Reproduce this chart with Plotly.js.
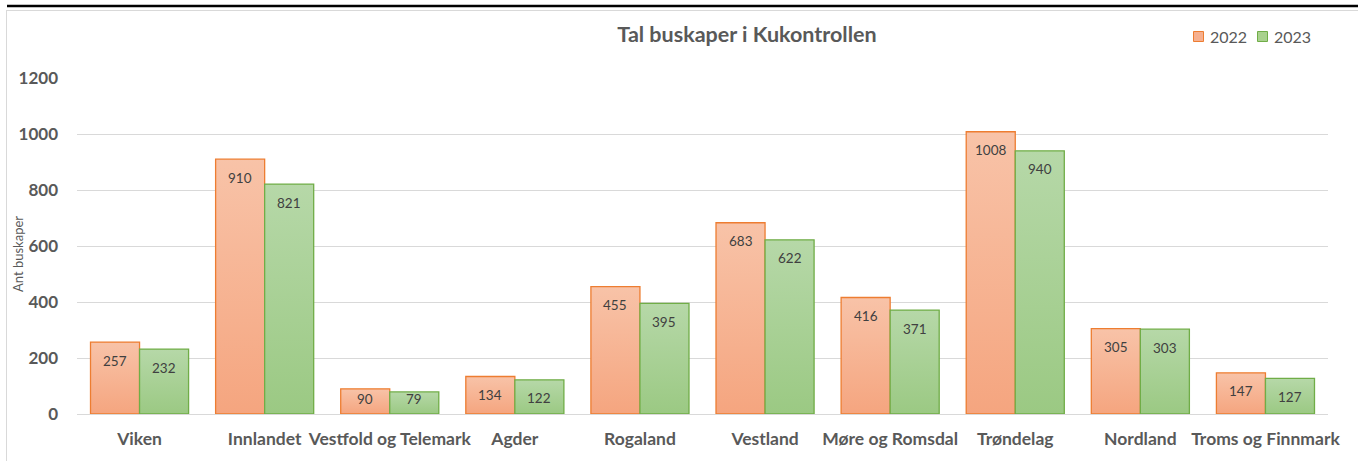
<!DOCTYPE html>
<html>
<head>
<meta charset="utf-8">
<script src="https://cdn.plot.ly/plotly-3.0.1.min.js"></script>
<style>
html,body{margin:0;padding:0;background:#fff;}
#chart{width:1358px;height:461px;}
</style>
</head>
<body>
<div id="chart"></div>
<script>
const categories = ["Viken", "Innlandet", "Vestfold og Telemark", "Agder", "Rogaland", "Vestland", "Møre og Romsdal", "Trøndelag", "Nordland", "Troms og Finnmark"];
const values2022 = [257, 910, 90, 134, 455, 683, 416, 1008, 305, 147];
const values2023 = [232, 821, 79, 122, 395, 622, 371, 940, 303, 127];
const seriesNames = ["2022", "2023"];
const yTicks = [0, 200, 400, 600, 800, 1000, 1200];
const yTitle = "Ant buskaper";
const chartTitle = "Tal buskaper i Kukontrollen";

const FONT = "Lato, 'Noto Sans', sans-serif";
const TXT = "#595959";

const L = 77, R = 30, T = 78, B = 47, W = 1358, H = 461;
const pw = W - L - R, ph = H - T - B;
const px = v => (v - L) / pw;
const py = v => (H - B - v) / ph;
const yMax = yTicks[yTicks.length - 1];

const fills = ["#F6B08F", "#A9D18E"];
const lines = ["#ED7D31", "#70AD47"];

const traces = [
  {type: "bar", name: seriesNames[0], x: categories, y: values2022,
   marker: {color: fills[0], line: {color: lines[0], width: 1.3}}, hoverinfo: "x+y"},
  {type: "bar", name: seriesNames[1], x: categories, y: values2023,
   marker: {color: fills[1], line: {color: lines[1], width: 1.3}}, hoverinfo: "x+y"}
];

const annotations = [];
const halfBar = 24.5;
// label sits ~18.5px below bar top, but is kept inside short bars (centre >= 15px above the base)
const labelShift = v => -Math.max(0, Math.min(18.5, v * ph / yMax - 15));
[values2022, values2023].forEach((vals, s) => {
  categories.forEach((c, i) => {
    annotations.push({x: c, y: vals[i], xref: "x", yref: "y", text: String(vals[i]),
      showarrow: false, xshift: s === 0 ? -halfBar : halfBar, yshift: labelShift(vals[i]),
      font: {family: FONT, size: 13.5, color: "#404040"}});
  });
});
annotations.push({x: px(18), y: py(254), xref: "paper", yref: "paper", text: yTitle, textangle: -90,
  showarrow: false, xanchor: "center", yanchor: "middle", font: {family: FONT, size: 13, color: TXT}});

// legend (drawn manually to match the original spacing)
const legendX = [1193, 1257];
const shapes = [
  {type: "line", xref: "paper", yref: "paper", x0: px(7), x1: px(1358), y0: py(6), y1: py(6),
   line: {color: "#000", width: 2.5}},
  {type: "line", xref: "paper", yref: "paper", x0: px(6), x1: px(1358), y0: py(10.5), y1: py(10.5),
   line: {color: "#D9D9D9", width: 1}},
  {type: "line", xref: "paper", yref: "paper", x0: px(6.5), x1: px(6.5), y0: py(10), y1: py(461),
   line: {color: "#D9D9D9", width: 1}}
];
seriesNames.forEach((n, i) => {
  shapes.push({type: "rect", xref: "paper", yref: "paper",
    x0: px(legendX[i] + 0.5), x1: px(legendX[i] + 10.5), y0: py(31.5), y1: py(41.5),
    fillcolor: fills[i], line: {color: lines[i], width: 1}});
  annotations.push({x: px(legendX[i] + 15), y: py(36.5), xref: "paper", yref: "paper", text: n,
    showarrow: false, xanchor: "left", yanchor: "middle", font: {family: FONT, size: 16, color: TXT}});
});

const layout = {
  width: W, height: H,
  margin: {l: L, r: R, t: T, b: B, pad: 0},
  paper_bgcolor: "#fff", plot_bgcolor: "#fff",
  font: {family: FONT, color: TXT},
  title: {text: "<b>" + chartTitle + "</b>", font: {family: FONT, size: 21.5, color: TXT},
          x: px(747), xref: "paper", xanchor: "center", y: 1 - 34 / H, yanchor: "middle"},
  barmode: "group", bargap: 0.216, bargroupgap: 0,
  showlegend: false,
  xaxis: {type: "category", showgrid: false, zeroline: false, showline: false, ticks: "",
          tickfont: {family: FONT, size: 17.5, color: TXT, weight: "bold"}, ticklabelstandoff: 12},
  yaxis: {range: [0, yMax], tickvals: yTicks, showgrid: true, gridcolor: "#D9D9D9", gridwidth: 1,
          zeroline: true, zerolinecolor: "#D9D9D9", zerolinewidth: 1, showline: false, ticks: "",
          tickfont: {family: FONT, size: 17, color: TXT, weight: "bold"}, ticklabelstandoff: 18},
  annotations: annotations,
  shapes: shapes
};

Plotly.newPlot("chart", traces, layout, {displayModeBar: false, staticPlot: true}).then(gd => {
  const svg = gd.querySelector("svg.main-svg");
  const ns = "http://www.w3.org/2000/svg";
  let defs = svg.querySelector("defs");
  if (!defs) { defs = document.createElementNS(ns, "defs"); svg.insertBefore(defs, svg.firstChild); }
  const grads = [["gradO", "#F8C3A8", "#F5A57F"], ["gradG", "#B6D8A8", "#9BC983"]];
  grads.forEach(([id, top, bot]) => {
    const g = document.createElementNS(ns, "linearGradient");
    g.setAttribute("id", id);
    g.setAttribute("x1", "0"); g.setAttribute("y1", "0"); g.setAttribute("x2", "0"); g.setAttribute("y2", "1");
    [["0", top], ["1", bot]].forEach(([o, c]) => {
      const s = document.createElementNS(ns, "stop");
      s.setAttribute("offset", o); s.setAttribute("stop-color", c);
      g.appendChild(s);
    });
    defs.appendChild(g);
  });
  gd.querySelectorAll(".barlayer .trace").forEach((tr, i) => {
    const id = i === 0 ? "gradO" : "gradG";
    tr.querySelectorAll("path").forEach(p => { p.style.fill = "url(#" + id + ")"; });
  });
});
</script>
</body>
</html>
